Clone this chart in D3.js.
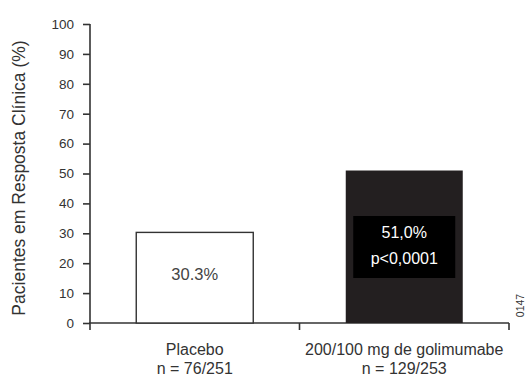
<!DOCTYPE html>
<html><head><meta charset="utf-8">
<script src="https://cdn.jsdelivr.net/npm/d3@7"></script>
<style>body{margin:0;background:#fff;}svg{display:block;font-family:"Liberation Sans",Arial,sans-serif;}</style>
</head><body>
<script>
const categories = ["Placebo", "200/100 mg de golimumabe"];
const subLabels = ["n = 76/251", "n = 129/253"];
const values = [30.3, 51.0];
const valueLabels = ["30.3%", "51,0%"];
const pLabels = [null, "p<0,0001"];
const yTicks = [0,10,20,30,40,50,60,70,80,90,100];
const yTitle = "Pacientes em Resposta Clínica (%)";
const fills = ["#ffffff", "#231f20"];

const W = 529, H = 383;
const svg = d3.select("body").append("svg").attr("width", W).attr("height", H);

const y = d3.scaleLinear().domain([0,100]).range([323, 24]);
const x = d3.scaleBand().domain(categories).range([90, 509]).paddingInner(0).paddingOuter(0);
const barW = 117;

// y axis
const ya = svg.append("g").attr("transform","translate(90,0)")
  .call(d3.axisLeft(y).tickValues(yTicks).tickSize(7).tickPadding(9).tickSizeOuter(0));
ya.select(".domain").remove();
ya.selectAll(".tick line").attr("stroke","#333").attr("stroke-width",1.6);
ya.selectAll(".tick text").attr("font-size",13.5).attr("fill","#333").attr("font-family","Liberation Sans, Arial, sans-serif");
svg.append("line").attr("x1",90).attr("x2",90).attr("y1",y(100)).attr("y2",330)
  .attr("stroke","#333").attr("stroke-width",1.6);

// x axis
svg.append("line").attr("x1",89).attr("x2",509).attr("y1",y(0)).attr("y2",y(0))
  .attr("stroke","#333").attr("stroke-width",1.6);
const xTickPos = [x(categories[0]) + x.bandwidth(), x(categories[1]) + x.bandwidth()];
svg.selectAll(".xt").data(xTickPos).enter().append("line")
  .attr("x1",d=>d).attr("x2",d=>d).attr("y1",y(0)).attr("y2",330)
  .attr("stroke","#333").attr("stroke-width",1.6);

// bars
svg.selectAll(".bar").data(values).enter().append("rect")
  .attr("x",(d,i)=>x(categories[i]) + x.bandwidth()/2 - barW/2)
  .attr("y",d=>y(d))
  .attr("width",barW)
  .attr("height",d=>y(0)-y(d))
  .attr("fill",(d,i)=>fills[i])
  .attr("stroke",(d,i)=> i===0 ? "#333" : "none")
  .attr("stroke-width",1.4);

// placebo label
const c0 = x(categories[0]) + x.bandwidth()/2;
svg.append("text").attr("x",c0).attr("y",280).attr("text-anchor","middle")
  .attr("font-size",16.5).attr("fill","#444").text(valueLabels[0]);

// golimumab label box
const c1 = x(categories[1]) + x.bandwidth()/2;
svg.append("rect").attr("x",c1-51).attr("y",216).attr("width",102).attr("height",62).attr("fill","#000");
svg.append("text").attr("x",c1).attr("y",238).attr("text-anchor","middle")
  .attr("font-size",16).attr("fill","#fff").text(valueLabels[1]);
svg.append("text").attr("x",c1).attr("y",264).attr("text-anchor","middle")
  .attr("font-size",16).attr("fill","#fff").text(pLabels[1]);

// category labels
categories.forEach((c,i)=>{
  const cx = x(c) + x.bandwidth()/2;
  svg.append("text").attr("x",cx).attr("y",355).attr("text-anchor","middle")
    .attr("font-size",16).attr("fill","#333").text(c);
  svg.append("text").attr("x",cx).attr("y",374).attr("text-anchor","middle")
    .attr("font-size",16).attr("fill","#333").text(subLabels[i]);
});

// y title
svg.append("text").attr("transform","translate(25,178) rotate(-90)").attr("text-anchor","middle")
  .attr("font-size",17.5).attr("fill","#333").text(yTitle);

// code
svg.append("text").attr("transform","translate(524,305.5) rotate(-90)").attr("text-anchor","middle")
  .attr("font-size",10.5).attr("fill","#333").text("0147");
</script>
</body></html>
